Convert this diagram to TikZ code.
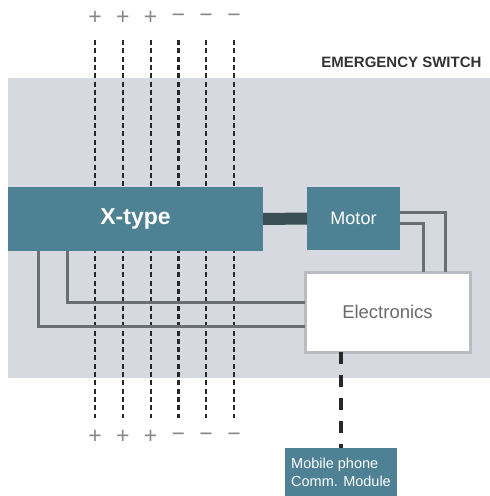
\documentclass[tikz,border=0pt]{standalone}
\usepackage{fontspec}
\setmainfont{Liberation Sans}
\definecolor{panel}{RGB}{214,218,224}
\definecolor{teal}{RGB}{77,129,147}
\definecolor{shaftc}{RGB}{58,80,86}
\definecolor{wirec}{RGB}{104,110,115}
\definecolor{rimc}{RGB}{184,188,192}
\definecolor{polec}{RGB}{40,40,40}
\definecolor{signc}{RGB}{135,135,135}
\begin{document}
\begin{tikzpicture}[x=1pt, y=-1pt,
    box/.style={fill=teal, text=white, inner sep=0pt, outer sep=0pt},
    pole/.style={polec, line width=2.2pt, dash pattern=on 5pt off 3.3pt},
    link/.style={polec, line width=3.5pt, dash pattern=on 12pt off 11pt},
    wire/.style={wirec, line width=3pt},
    shaft/.style={shaftc, line width=12pt},
    sign/.style={signc, font=\fontsize{23}{23}\selectfont, inner sep=0pt}]
  \useasboundingbox (0,0) rectangle (490,496);
  \fill[panel] (8,78) rectangle (490,378);
  \node[anchor=east, text=black!80, font=\fontsize{15}{18}\selectfont\bfseries] (title) at (485,62) {EMERGENCY SWITCH};
  % the six poles run behind the X-type block
  \foreach \s [count=\i] in {+,+,+,−,−,−} {
    \node[sign] (top\i) at ({95+27.8*(\i-1)},18) {\s};
    \node[sign] (bot\i) at ({95+27.8*(\i-1)},437) {\s};
    \draw[pole] ([yshift=-22pt]top\i.center) -- ([yshift=19pt]bot\i.center);
  }
  \node[box, minimum width=255pt, minimum height=64pt, font=\fontsize{23}{26}\selectfont\bfseries] (xtype) at (135.5,219) {X-type};
  \node[box, minimum width=93pt, minimum height=63pt, font=\fontsize{18}{20}\selectfont] (motor) at (353.5,218.5) {Motor};
  \node[fill=white, draw=rimc, line width=3pt, text=black!58, minimum width=165pt, minimum height=80pt, inner sep=0pt, outer sep=0pt, font=\fontsize{18.5}{22}\selectfont] (elec) at (387.5,312) {Electronics};
  \node[box, minimum width=112pt, minimum height=48pt, align=left, font=\fontsize{14.5}{18}\selectfont] (mobile) at (341,472) {Mobile phone\\Comm. Module};
  \draw[shaft] (xtype.east) -- (motor.west);
  \draw[wire] ([yshift=6.5pt]motor.east) -| ([xshift=57.5pt]elec.north);
  \draw[wire] ([yshift=-4.5pt]motor.east) -| ([xshift=35.5pt]elec.north);
  \draw[wire] ([xshift=-68.5pt]xtype.south) |- ([yshift=10pt]elec.west);
  \draw[wire] ([xshift=-97.5pt]xtype.south) |- ([yshift=-14pt]elec.west);
  \draw[link] (elec.south -| mobile.north) -- (mobile.north);
\end{tikzpicture}
\end{document}
